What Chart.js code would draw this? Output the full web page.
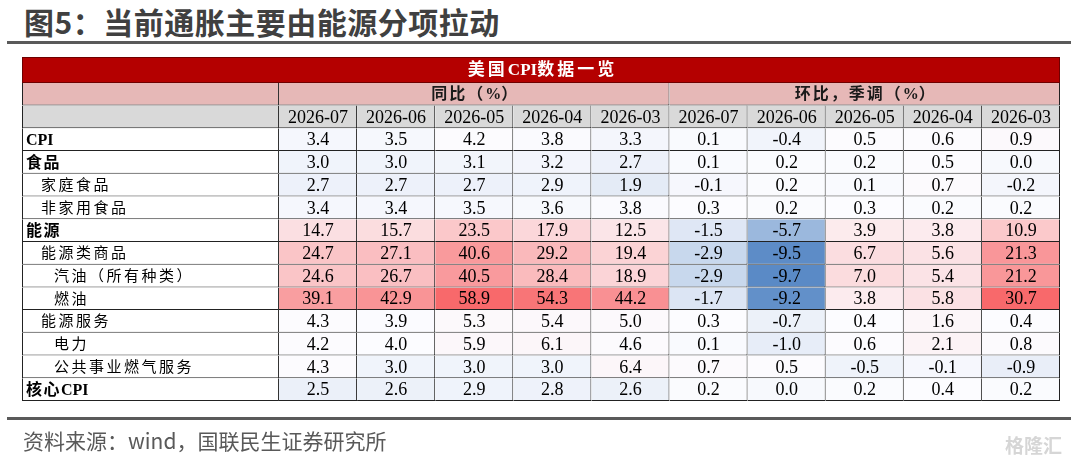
<!DOCTYPE html>
<html>
<head>
<meta charset="utf-8">
<script src="https://cdn.jsdelivr.net/npm/chart.js@4.4.1/dist/chart.umd.min.js"></script>
<style>
  html, body { margin: 0; padding: 0; background: #fff; }
  #page { position: relative; width: 1080px; height: 461px; overflow: hidden; font-family: "Noto Sans CJK SC", sans-serif; }
  #title { position: absolute; left: 24px; top: 2px; font-size: 30px; font-weight: bold; color: #404040; line-height: 38px; letter-spacing: 0.5px; white-space: nowrap; }
  .rule { position: absolute; left: 7px; width: 1064px; height: 3px; background: #5a5a5a; }
  #source { position: absolute; left: 23px; top: 425px; font-size: 21px; color: #595959; line-height: 30px; white-space: nowrap; }
  #mark { position: absolute; left: 1005px; top: 431px; font-size: 19px; font-weight: bold; color: #d6d6d6; white-space: nowrap; }
  #wrap { position: absolute; left: 0; top: 0; width: 1080px; height: 461px; }
</style>
</head>
<body>
<div id="page">
  <div id="title">图5：当前通胀主要由能源分项拉动</div>
  <div class="rule" style="top:41px"></div>
  <div id="wrap"><canvas id="cpi-table"></canvas></div>
  <div class="rule" style="top:417px"></div>
  <div id="source">资料来源：wind，国联民生证券研究所</div>
  <div id="mark">格隆汇</div>
</div>

<script>
    // ---- data ----
    const tableTitle = '美国CPI数据一览';
    const groupTitles = ['同比（%）', '环比，季调（%）'];
    const months = ['2026-07', '2026-06', '2026-05', '2026-04', '2026-03'];
    const rowLabels = ['CPI', '食品', '家庭食品', '非家用食品', '能源', '能源类商品',
        '汽油（所有种类）', '燃油', '能源服务', '电力', '公共事业燃气服务', '核心CPI'];
    const rowLevels = [0, 0, 1, 1, 0, 1, 2, 2, 1, 2, 2, 0];
    const yoyValues = [
        [3.4, 3.5, 4.2, 3.8, 3.3],
        [3.0, 3.0, 3.1, 3.2, 2.7],
        [2.7, 2.7, 2.7, 2.9, 1.9],
        [3.4, 3.4, 3.5, 3.6, 3.8],
        [14.7, 15.7, 23.5, 17.9, 12.5],
        [24.7, 27.1, 40.6, 29.2, 19.4],
        [24.6, 26.7, 40.5, 28.4, 18.9],
        [39.1, 42.9, 58.9, 54.3, 44.2],
        [4.3, 3.9, 5.3, 5.4, 5.0],
        [4.2, 4.0, 5.9, 6.1, 4.6],
        [4.3, 3.0, 3.0, 3.0, 6.4],
        [2.5, 2.6, 2.9, 2.8, 2.6]
    ];
    const momValues = [
        [0.1, -0.4, 0.5, 0.6, 0.9],
        [0.1, 0.2, 0.2, 0.5, 0.0],
        [-0.1, 0.2, 0.1, 0.7, -0.2],
        [0.3, 0.2, 0.3, 0.2, 0.2],
        [-1.5, -5.7, 3.9, 3.8, 10.9],
        [-2.9, -9.5, 6.7, 5.6, 21.3],
        [-2.9, -9.7, 7.0, 5.4, 21.2],
        [-1.7, -9.2, 3.8, 5.8, 30.7],
        [0.3, -0.7, 0.4, 1.6, 0.4],
        [0.1, -1.0, 0.6, 2.1, 0.8],
        [0.7, 0.5, -0.5, -0.1, -0.9],
        [0.2, 0.0, 0.2, 0.4, 0.2]
    ];

    // ---- layout (units: one data column wide, one data row high) ----
    const LABEL_W = 3.29;
    const RED_H = 1.14;
    const nCols = months.length * 2;
    const xMin = -LABEL_W, xMax = nCols;
    const yMin = -2.5 - RED_H, yMax = rowLabels.length - 0.5;
    const rowRed = -2.5 - RED_H / 2, rowGroup = -2, rowMonth = -1;

    const LINE = '#222222';
    const NUM_FONT = '18px "Liberation Serif", "Times New Roman", serif';
    const LABEL_FONT = '15px "Liberation Serif", "Noto Sans CJK SC", serif';
    const LABEL_BOLD = 'bold 16px "Liberation Serif", "Noto Sans CJK SC", serif';
    const HEAD_FONT = 'bold 16px "Liberation Serif", "Noto Sans CJK SC", serif';

    // excel-like 3 colour scale, one per block
    const BLUE = [90, 138, 198], WHITE = [252, 252, 255], RED = [248, 105, 107];
    const heatScales = [{lo: -10, mid: 4.0, hi: 58.9}, {lo: -9.7, mid: 0.3, hi: 30.7}];
    function mix(a, b, t) {
        return 'rgb(' + a.map((v, i) => Math.round(v + (b[i] - v) * t)).join(',') + ')';
    }
    function heat(v, block) {
        const s = heatScales[block];
        if (v >= s.mid) return mix(WHITE, RED, Math.min(1, (v - s.mid) / (s.hi - s.mid)));
        return mix(WHITE, BLUE, Math.min(1, (s.mid - v) / (s.mid - s.lo)));
    }

    // ---- cells ----
    const redCells = [{x: [xMin, xMax], y: rowRed}];
    const groupCells = [
        {x: [xMin, 0], y: rowGroup},
        {x: [0, months.length], y: rowGroup},
        {x: [months.length, nCols], y: rowGroup}
    ];
    const monthCells = [{x: [xMin, 0], y: rowMonth}];
    for (let c = 0; c < nCols; c++) {
        monthCells.push({x: [c, c + 1], y: rowMonth});
    }
    const labelCells = rowLabels.map((l, i) => ({x: [xMin, 0], y: i}));
    const valueCells = [];
    const valueColors = [];
    rowLabels.forEach((l, i) => {
        [yoyValues, momValues].forEach((block, b) => {
            block[i].forEach((v, j) => {
                const c = b * months.length + j;
                valueCells.push({x: [c, c + 1], y: i});
                valueColors.push(heat(v, b));
            });
        });
    });

    const leftFirst = ctx => ctx.dataIndex === 0
        ? {left: 1, right: 1, bottom: 1, top: 0}
        : {left: 0, right: 1, bottom: 1, top: 0};

    function cellSet(data, bg, pct, border, color) {
        return {
            data: data,
            backgroundColor: bg,
            borderColor: color || LINE,
            borderWidth: border,
            borderSkipped: false,
            barPercentage: pct,
            categoryPercentage: 1,
            grouped: false,
            inflateAmount: 0
        };
    }

    // chinese glyphs get extra tracking, latin letters/digits do not
    const isWide = ch => ch.charCodeAt(0) > 0x2e80;

    const tablePainter = {
        id: 'tablePainter',
        afterDatasetsDraw(chart) {
            const {ctx, scales: {x, y}} = chart;
            const put = (text, px, py, font, color, align, spacing) => {
                ctx.font = font;
                ctx.fillStyle = color;
                ctx.textAlign = 'left';
                const chars = Array.from(text);
                const adv = chars.map(ch => ctx.measureText(ch).width + (isWide(ch) ? spacing : 0));
                let total = adv.reduce((a, b) => a + b, 0);
                if (isWide(chars[chars.length - 1])) total -= spacing;
                let cx = align === 'center' ? px - total / 2 : px;
                chars.forEach((ch, k) => {
                    ctx.fillText(ch, cx, py);
                    cx += adv[k];
                });
            };
            ctx.save();
            ctx.textBaseline = 'middle';

            put(tableTitle, x.getPixelForValue((xMin + xMax) / 2), y.getPixelForValue(rowRed) + 1,
                'bold 17px "Liberation Serif", "Noto Sans CJK SC", serif', '#ffffff', 'center', 3);

            groupTitles.forEach((t, b) => {
                put(t, x.getPixelForValue(b * months.length + months.length / 2), y.getPixelForValue(rowGroup) + 1,
                    HEAD_FONT, '#1a1a1a', 'center', 2);
            });

            for (let c = 0; c < nCols; c++) {
                put(months[c % months.length], x.getPixelForValue(c + 0.5), y.getPixelForValue(rowMonth) + 1,
                    NUM_FONT, '#000000', 'center', 0);
            }

            const indents = [4, 19, 32];
            rowLabels.forEach((l, i) => {
                const lvl = rowLevels[i];
                put(l, x.getPixelForValue(xMin) + indents[lvl], y.getPixelForValue(i) + 1,
                    lvl === 0 ? LABEL_BOLD : LABEL_FONT, '#000000', 'left', lvl === 0 ? 1.5 : 2.5);
                [yoyValues, momValues].forEach((block, b) => {
                    block[i].forEach((v, j) => {
                        const c = b * months.length + j;
                        put(v.toFixed(1), x.getPixelForValue(c + 0.5), y.getPixelForValue(i) + 1,
                            NUM_FONT, '#000000', 'center', 0);
                    });
                });
            });
            ctx.restore();
        }
    };

    new Chart(document.getElementById('cpi-table'), {
        type: 'bar',
        data: {
            datasets: [
                cellSet(redCells, '#b40000', RED_H, 1, '#6e0000'),
                cellSet(groupCells, '#e6b8b7', 1, leftFirst),
                cellSet(monthCells, '#d9d9d9', 1, leftFirst),
                cellSet(labelCells, '#ffffff', 1, {left: 1, right: 1, bottom: 1, top: 0}),
                cellSet(valueCells, valueColors, 1, {left: 0, right: 1, bottom: 1, top: 0})
            ]
        },
        options: {
            indexAxis: 'y',
            responsive: true,
            maintainAspectRatio: false,
            animation: false,
            events: [],
            layout: {padding: {left: 22, right: 20, top: 57, bottom: 60}},
            plugins: {legend: {display: false}, tooltip: {enabled: false}},
            scales: {
                x: {type: 'linear', min: xMin, max: xMax, display: false},
                y: {
                    type: 'linear', min: yMin, max: yMax, reverse: true, offset: false, display: false,
                    afterBuildTicks: s => { s.ticks = [{value: yMin}, {value: yMax}]; }
                }
            }
        },
        plugins: [tablePainter]
    });
</script>
</body>
</html>
